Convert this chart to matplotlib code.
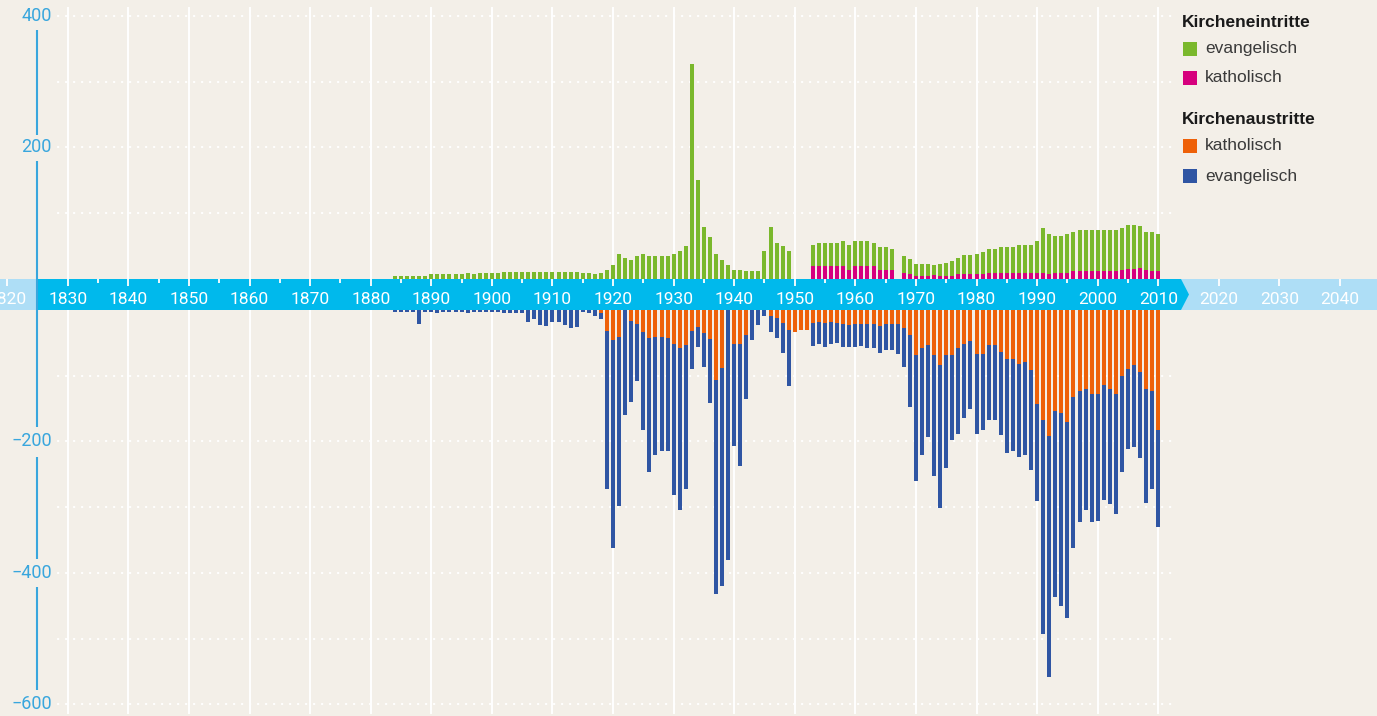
import numpy as np
import matplotlib.pyplot as plt
from matplotlib.patches import Rectangle, Polygon

# data: one value per year, 1884 .. 2010 (in thousands)
years = np.arange(1884, 2011)

eintritt_evang = [4, 4, 4, 4, 4, 4,
                  7, 7, 7, 7, 7, 7, 9, 7, 9, 9,
                  9, 9, 11, 11, 11, 11, 11, 11, 11, 11,
                  11, 11, 11, 11, 11, 9, 9, 7, 9, 13,
                  21, 38, 32, 29, 35, 38, 35, 35, 35, 35,
                  38, 43, 50, 327, 151, 79, 64, 38, 29, 21,
                  14, 14, 12, 12, 12, 43, 79, 55, 50, 43,
                  0, 0, 0, 31, 35, 35, 35, 35, 37, 37,
                  37, 37, 39, 35, 35, 35, 31, 0, 26, 23,
                  18, 18, 18, 16, 18, 20, 23, 24, 29, 29,
                  30, 33, 36, 37, 40, 40, 40, 42, 42, 42,
                  48, 68, 61, 57, 57, 59, 59, 63, 63, 63,
                  63, 62, 62, 62, 63, 67, 67, 63, 58, 59, 57]

eintritt_kath = [0] * 69 + [20, 19, 19, 19, 20, 20, 14,
                            20, 20, 19, 19, 13, 14, 14, 0, 9, 8,
                            5, 5, 5, 6, 5, 5, 5, 8, 8, 8,
                            8, 8, 9, 9, 9, 9, 9, 9, 9, 9,
                            9, 9, 8, 9, 9, 9, 12, 12, 12, 12,
                            12, 12, 12, 12, 14, 15, 15, 17, 14, 12, 12]

austritt_kath = [0] * 34 + [5, 32,
                            46, 41, 0, 17, 21, 34, 43, 41, 41, 43,
                            52, 58, 53, 32, 26, 35, 44, 107, 89, 0,
                            52, 52, 38, 0, 0, 0, 9, 12, 20, 31,
                            34, 31, 31, 20, 18, 20, 18, 20, 21, 23,
                            21, 21, 21, 21, 24, 21, 21, 21, 27, 38,
                            69, 58, 53, 69, 84, 69, 69, 58, 52, 47,
                            67, 67, 53, 53, 64, 75, 75, 82, 79, 92,
                            143, 168, 192, 154, 157, 170, 133, 124, 121, 128,
                            128, 114, 121, 128, 101, 90, 84, 95, 121, 124, 183]

austritt_evang = [3, 3, 3, 3, 22, 3,
                  3, 5, 3, 3, 3, 3, 5, 3, 3, 3,
                  3, 3, 5, 5, 5, 5, 18, 14, 23, 24,
                  18, 18, 23, 28, 26, 3, 4, 9, 9, 241,
                  316, 258, 160, 123, 87, 149, 204, 179, 173, 171,
                  230, 246, 220, 58, 30, 52, 98, 325, 331, 380,
                  155, 185, 98, 46, 23, 9, 25, 31, 46, 84,
                  0, 0, 0, 35, 34, 36, 34, 30, 35, 33,
                  35, 34, 37, 37, 42, 40, 40, 46, 59, 110,
                  192, 162, 141, 184, 218, 171, 129, 130, 113, 103,
                  121, 116, 115, 115, 127, 142, 140, 142, 141, 151,
                  147, 325, 367, 283, 293, 299, 229, 198, 183, 194,
                  193, 175, 174, 182, 145, 121, 124, 131, 172, 149, 147]

y_ticks_top = [200, 400]
y_ticks_bot = [-200, -400, -600]
decades = list(range(1820, 2041, 10))

# colours
BG = '#F3EFE8'
GREEN = '#7AB82C'
MAGENTA = '#D6007E'
ORANGE = '#EE6109'
BLUE = '#2F55A3'
BAND = '#00B9EC'
BAND_LIGHT = '#AEDEF6'
AXIS_BLUE = '#38A6DD'

plt.rcParams['font.family'] = ['Roboto', 'DejaVu Sans']

W, H = 1377, 716
fig = plt.figure(figsize=(W / 100, H / 100), dpi=100)
fig.patch.set_facecolor(BG)

px_per_year = 6.058
x_left = 1890 - 431.3 / px_per_year
x_right = x_left + W / px_per_year

# background axes in pixel coordinates (band, legend, axis line)
ax_bg = fig.add_axes([0, 0, 1, 1])
ax_bg.set_xlim(0, W)
ax_bg.set_ylim(H, 0)
ax_bg.axis('off')

top_px, bot_px = 279, 310
ax_top = fig.add_axes([0, 1 - top_px / H, 1, top_px / H])
ax_bot = fig.add_axes([0, 0, 1, (H - bot_px) / H])
ax_band = fig.add_axes([0, 1 - bot_px / H, 1, (bot_px - top_px) / H])
for ax in (ax_top, ax_bot, ax_band):
    ax.set_xlim(x_left, x_right)
    ax.axis('off')
    ax.patch.set_alpha(0)
ax_top.set_ylim(0, top_px / 0.658)
ax_bot.set_ylim(-(H - bot_px) / 0.657, 0)
ax_band.set_ylim(bot_px - top_px, 0)

# grid
for d in range(1830, 2011, 10):
    ax_top.axvline(d, ymax=(top_px - 8) / top_px, color='white', lw=1.4, zorder=0)
    ax_bot.axvline(d, ymin=3 / (H - bot_px), color='white', lw=1.4, zorder=0)
dots = dict(color='white', lw=1.6, ls=(0, (0.1, 3.5)), dash_capstyle='round',
            xmin=58 / W, xmax=1172 / W, zorder=0)
for v in [100, 200, 300, 400]:
    ax_top.axhline(v, **dots)
for v in [-100, -200, -300, -400, -500, -600]:
    ax_bot.axhline(v, **dots)

# bars
bw = 0.66
ein_k = np.array(eintritt_kath)
ein_e = np.array(eintritt_evang)
aus_k = np.array(austritt_kath)
aus_e = np.array(austritt_evang)
ax_top.bar(years, ein_k, width=bw, color=MAGENTA, lw=0, zorder=2)
ax_top.bar(years, ein_e, bottom=ein_k, width=bw, color=GREEN, lw=0, zorder=2)
ax_bot.bar(years, -aus_k, width=bw, color=ORANGE, lw=0, zorder=2)
ax_bot.bar(years, -aus_e, bottom=-aus_k, width=bw, color=BLUE, lw=0, zorder=2)

# time band
ax_bg.add_patch(Rectangle((0, top_px), W, bot_px - top_px, color=BAND_LIGHT, lw=0))
ax_bg.add_patch(Polygon([(37, top_px), (1181, top_px), (1189, (top_px + bot_px) / 2),
                         (1181, bot_px), (37, bot_px)], closed=True, color=BAND, lw=0))
ax_band.vlines(decades, 0, 7, color='white', lw=1.3)
ax_band.vlines(list(range(1835, 2006, 10)), 0, 3.5, color='white', lw=1.3)
for d in decades:
    ax_band.text(d, 20, str(d), ha='center', va='center', color='white',
                 fontsize=12.5)

# left axis
ax_bg.vlines([37] * 4, [30, 161, 457, 587], [135, 427, 559, 690], color=AXIS_BLUE, lw=1.5)
for v in y_ticks_top:
    ax_top.text(52 / W, v, str(v), transform=ax_top.get_yaxis_transform(),
                ha='right', va='center', color=AXIS_BLUE, fontsize=13)
for v in y_ticks_bot:
    ax_bot.text(52 / W, v, '\u2212' + str(-v), transform=ax_bot.get_yaxis_transform(),
                ha='right', va='center', color=AXIS_BLUE, fontsize=13)

# legend
leg_font = ['Liberation Sans', 'DejaVu Sans']
ax_bg.text(1182, 22.5, 'Kircheneintritte', fontsize=12.5, fontweight='bold',
           color='#1A1A1A', va='center', family=leg_font)
ax_bg.text(1182, 119, 'Kirchenaustritte', fontsize=12.5, fontweight='bold',
           color='#1A1A1A', va='center', family=leg_font)
for yc, col, lab in [(49, GREEN, 'evangelisch'), (78, MAGENTA, 'katholisch'),
                     (146, ORANGE, 'katholisch'), (176, BLUE, 'evangelisch')]:
    ax_bg.add_patch(Rectangle((1183, yc - 7), 14, 14, color=col, lw=0))
    ax_bg.text(1205, yc, lab, fontsize=12.5, color='#3A3A3A', va='center', family=leg_font)

fig.savefig('out.png', dpi=100, facecolor=BG)
